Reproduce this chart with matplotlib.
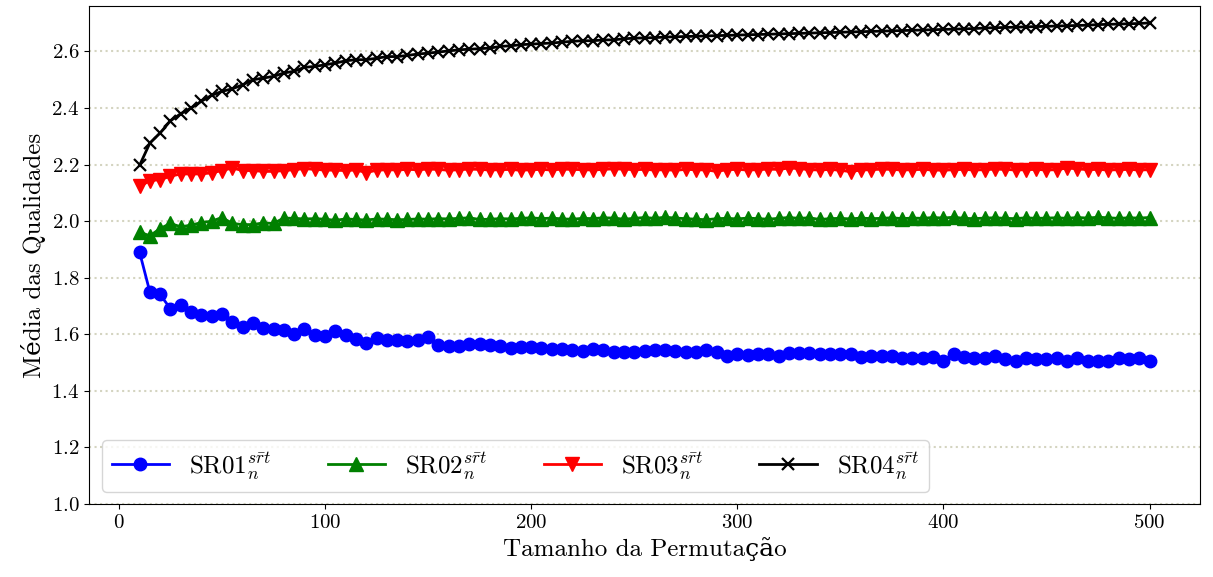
import numpy as np
import matplotlib
matplotlib.use('Agg')
import matplotlib.pyplot as plt

plt.rcParams['font.family'] = ['cmr10', 'DejaVu Serif']
plt.rcParams['mathtext.fontset'] = 'cm'
plt.rcParams['axes.formatter.use_mathtext'] = True

# tamanhos de permutacao 10..500 (passo 5)
n = np.arange(10, 505, 5)

sr01 = [1.891, 1.750, 1.741, 1.690, 1.705, 1.678, 1.670, 1.665, 1.673, 1.642,
        1.626, 1.640, 1.621, 1.618, 1.614, 1.602, 1.618, 1.597, 1.593, 1.610,
        1.599, 1.585, 1.570, 1.587, 1.580, 1.580, 1.576, 1.580, 1.591, 1.561,
        1.557, 1.559, 1.566, 1.566, 1.562, 1.557, 1.552, 1.555, 1.556, 1.552,
        1.549, 1.547, 1.543, 1.540, 1.547, 1.544, 1.537, 1.537, 1.537, 1.540,
        1.544, 1.546, 1.540, 1.536, 1.538, 1.544, 1.538, 1.525, 1.529, 1.527,
        1.529, 1.529, 1.525, 1.535, 1.534, 1.533, 1.532, 1.529, 1.529, 1.532,
        1.519, 1.525, 1.523, 1.523, 1.515, 1.515, 1.515, 1.521, 1.505, 1.532,
        1.519, 1.515, 1.515, 1.523, 1.511, 1.505, 1.517, 1.511, 1.511, 1.517,
        1.507, 1.515, 1.505, 1.505, 1.507, 1.515, 1.511, 1.515, 1.507]

sr02 = [1.962, 1.948, 1.974, 1.992, 1.980, 1.986, 1.995, 2.000, 2.013, 1.992,
        1.988, 1.988, 1.994, 1.992, 2.011, 2.010, 2.008, 2.009, 2.007, 2.003,
        2.008, 2.006, 2.004, 2.008, 2.007, 2.005, 2.006, 2.008, 2.007, 2.009,
        2.008, 2.010, 2.012, 2.006, 2.007, 2.009, 2.008, 2.010, 2.012, 2.009,
        2.011, 2.008, 2.007, 2.010, 2.009, 2.012, 2.011, 2.007, 2.010, 2.013,
        2.010, 2.014, 2.011, 2.009, 2.007, 2.005, 2.009, 2.010, 2.008, 2.011,
        2.009, 2.007, 2.010, 2.013, 2.010, 2.012, 2.006, 2.009, 2.010, 2.008,
        2.011, 2.009, 2.010, 2.012, 2.009, 2.011, 2.010, 2.013, 2.011, 2.014,
        2.010, 2.009, 2.011, 2.012, 2.010, 2.009, 2.012, 2.010, 2.011, 2.012,
        2.010, 2.013, 2.011, 2.014, 2.012, 2.010, 2.012, 2.011, 2.013]

sr03 = [2.123, 2.143, 2.147, 2.159, 2.167, 2.167, 2.167, 2.171, 2.179, 2.188,
        2.179, 2.179, 2.176, 2.176, 2.179, 2.182, 2.186, 2.183, 2.181, 2.180,
        2.179, 2.181, 2.172, 2.180, 2.182, 2.181, 2.183, 2.182, 2.184, 2.183,
        2.180, 2.182, 2.184, 2.183, 2.181, 2.182, 2.183, 2.180, 2.182, 2.183,
        2.181, 2.184, 2.183, 2.182, 2.181, 2.183, 2.185, 2.184, 2.182, 2.183,
        2.181, 2.182, 2.180, 2.183, 2.182, 2.181, 2.176, 2.182, 2.183, 2.181,
        2.182, 2.184, 2.183, 2.188, 2.186, 2.182, 2.181, 2.183, 2.180, 2.175,
        2.181, 2.182, 2.184, 2.183, 2.181, 2.182, 2.183, 2.181, 2.180, 2.182,
        2.183, 2.181, 2.182, 2.184, 2.183, 2.181, 2.182, 2.183, 2.181, 2.182,
        2.188, 2.185, 2.182, 2.183, 2.181, 2.182, 2.183, 2.181, 2.182]

sr04 = [2.197, 2.276, 2.312, 2.355, 2.380, 2.400, 2.424, 2.445, 2.459, 2.468,
        2.482, 2.500, 2.506, 2.512, 2.524, 2.530, 2.544, 2.547, 2.553, 2.559,
        2.567, 2.571, 2.571, 2.576, 2.582, 2.582, 2.586, 2.591, 2.594, 2.598,
        2.602, 2.606, 2.608, 2.610, 2.612, 2.618, 2.620, 2.624, 2.626, 2.628,
        2.630, 2.633, 2.636, 2.638, 2.638, 2.641, 2.641, 2.645, 2.647, 2.648,
        2.649, 2.651, 2.652, 2.653, 2.654, 2.655, 2.656, 2.657, 2.658, 2.659,
        2.660, 2.661, 2.662, 2.663, 2.664, 2.665, 2.666, 2.667, 2.668, 2.669,
        2.670, 2.671, 2.672, 2.673, 2.674, 2.675, 2.676, 2.677, 2.678, 2.679,
        2.680, 2.681, 2.683, 2.684, 2.685, 2.686, 2.687, 2.688, 2.689, 2.690,
        2.691, 2.692, 2.693, 2.695, 2.696, 2.697, 2.698, 2.699, 2.701]

labels = [r'SR01$_n^{s\bar{r}t}$', r'SR02$_n^{s\bar{r}t}$',
          r'SR03$_n^{s\bar{r}t}$', r'SR04$_n^{s\bar{r}t}$']

fig = plt.figure(figsize=(12.13, 5.77), dpi=100)
ax = fig.add_axes([0.0734, 0.1265, 0.9159, 0.8631])

ax.plot(n, sr01, color='blue', marker='o', markersize=9, linewidth=2, label=labels[0])
ax.plot(n, sr02, color='green', marker='^', markersize=9.5, linewidth=2, label=labels[1])
ax.plot(n, sr03, color='red', marker='v', markersize=9.5, linewidth=2, label=labels[2])
ax.plot(n, sr04, color='black', marker='x', markersize=8, markeredgewidth=1.6,
        linewidth=2, label=labels[3])

ax.set_ylim(bottom=1.0)
ax.set_xticks([0, 100, 200, 300, 400, 500])
ax.set_yticks(np.arange(1.0, 2.61, 0.2))
ax.yaxis.grid(True, linestyle=':', linewidth=1.5, color='#d4d4c0')
ax.set_axisbelow(True)
ax.tick_params(labelsize=15)

ax.set_xlabel('Tamanho da Permutação', fontsize=18)
ax.set_ylabel('Média das Qualidades', fontsize=18)

ax.legend(loc='lower left', ncol=4, fontsize=18, handlelength=2.3,
          columnspacing=2.25)

plt.savefig('out.png', dpi=100)
